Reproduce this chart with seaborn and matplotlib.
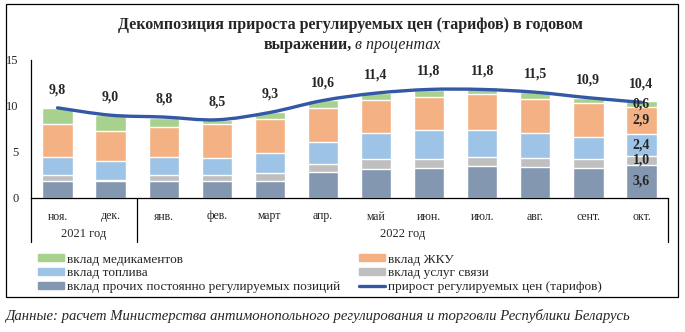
import matplotlib
matplotlib.use('Agg')
import matplotlib.pyplot as plt
import seaborn as sns
import numpy as np
import pandas as pd
from matplotlib.path import Path
from matplotlib.patches import PathPatch, Rectangle, Patch
from matplotlib.lines import Line2D
import matplotlib.transforms as mtransforms

# ---------------- data ----------------
months = ['ноя.', 'дек.', 'янв.', 'фев.', 'март', 'апр.', 'май', 'июн.', 'июл.', 'авг.', 'сент.', 'окт.']
other = [1.8, 1.9, 1.8, 1.8, 1.9, 2.8, 3.2, 3.3, 3.5, 3.4, 3.3, 3.6]
comm = [0.7, 0.1, 0.7, 0.7, 0.8, 0.9, 1.0, 0.9, 1.0, 1.0, 0.9, 1.0]
fuel = [2.0, 2.0, 2.0, 1.8, 2.2, 2.4, 2.9, 3.2, 2.9, 2.7, 2.4, 2.4]
housing = [3.5, 3.3, 3.2, 3.7, 3.7, 3.7, 3.6, 3.6, 3.9, 3.7, 3.7, 2.9]
meds = [1.8, 1.7, 1.0, 0.5, 0.7, 0.8, 0.7, 0.7, 0.5, 0.7, 0.6, 0.6]
total = [9.8, 9.0, 8.8, 8.5, 9.3, 10.6, 11.4, 11.8, 11.8, 11.5, 10.9, 10.4]
years = ['2021 год', '2022 год']
year_spans = [(0, 1), (2, 11)]

series_names = ['вклад прочих постоянно регулируемых позиций', 'вклад услуг связи',
                'вклад топлива', 'вклад ЖКУ', 'вклад медикаментов']
line_name = 'прирост регулируемых цен (тарифов)'
colors = ['#8497B0', '#BFBFBF', '#9DC3E6', '#F4B183', '#A9D18E']
line_color = '#3358A5'

title1 = 'Декомпозиция прироста регулируемых цен (тарифов) в годовом'
title2_bold = 'выражении,'
title2_it = 'в процентах'
caption = 'Данные: расчет Министерства антимонопольного регулирования и торговли Республики Беларусь'

# ---------------- style ----------------
sns.set_style('white')
plt.rcParams['font.family'] = ['Liberation Serif', 'DejaVu Serif']
plt.rcParams['axes.unicode_minus'] = False

W, H = 685, 332
fig = plt.figure(figsize=(W / 100, H / 100), dpi=100)

def fx(px):
    return px / W

def fy(py):
    return 1 - py / H

ax_left, ax_right, ax_top, ax_bot = 31, 668, 60, 198
ax = fig.add_axes([fx(ax_left), fy(ax_bot), fx(ax_right - ax_left), (ax_bot - ax_top) / H])

layers = [other, comm, fuel, housing, meds]
cums = np.cumsum(np.array(layers), axis=0)
df = pd.DataFrame({'month': months})
for i in range(len(layers) - 1, -1, -1):
    df['cum'] = cums[i]
    sns.barplot(data=df, x='month', y='cum', order=months, color=colors[i],
                saturation=1, width=0.57, errorbar=None, ax=ax, zorder=2)

ax.set_xlim(-0.5, len(months) - 0.5)
ax.set_ylim(0, 15)
ax.set_yticks([0, 5, 10, 15])
ax.set_xlabel('')
ax.set_ylabel('')
for s in ['top', 'right']:
    ax.spines[s].set_visible(False)
for s in ['left', 'bottom']:
    ax.spines[s].set_color('black')
    ax.spines[s].set_linewidth(0.9)
ax.tick_params(axis='y', length=0, labelsize=9, pad=9)
ax.tick_params(axis='x', length=0, labelsize=8.5, pad=9)
ax.grid(False)

# smooth line (Bezier through data points)
xs = np.arange(len(total), dtype=float)
ys = np.array(total, dtype=float)
pts = np.column_stack([xs, ys])
verts = [tuple(pts[0])]
codes = [Path.MOVETO]
n = len(pts)
for i in range(n - 1):
    p0 = pts[i - 1] if i > 0 else pts[i]
    p1 = pts[i]
    p2 = pts[i + 1]
    p3 = pts[i + 2] if i + 2 < n else pts[i + 1]
    c1 = p1 + (p2 - p0) / 6.0
    c2 = p2 - (p3 - p1) / 6.0
    verts += [tuple(c1), tuple(c2), tuple(p2)]
    codes += [Path.CURVE4] * 3
ax.add_patch(PathPatch(Path(verts, codes), facecolor='none', edgecolor=line_color,
                       lw=2.4, zorder=4, capstyle='round'))

def fmt(v):
    return f'{v:.1f}'.replace('.', ',')

for i, v in enumerate(total):
    ax.text(i, v + 1.95, fmt(v), ha='center', va='center', fontsize=10,
            fontweight='bold', zorder=5)

# segment labels for last bar
last = len(months) - 1
for k in range(len(layers)):
    base = cums[k - 1][last] if k > 0 else 0
    ax.text(last, base + layers[k][last] / 2, fmt(layers[k][last]), ha='center',
            va='center', fontsize=10, fontweight='bold', zorder=5)

# category separators and year labels
trans = mtransforms.blended_transform_factory(ax.transData, ax.transAxes)
drop = 44 / (ax_bot - ax_top)
for xv in [-0.5, 1.5, len(months) - 0.5]:
    ax.plot([xv, xv], [0, -drop], color='black', lw=0.9, transform=trans, clip_on=False)
for name, (a, b) in zip(years, year_spans):
    ax.text((a + b) / 2, -36 / (ax_bot - ax_top), name, transform=trans, ha='center',
            va='center', fontsize=9)

# title
fig.text(fx(350), fy(25), title1, ha='center', va='center', fontsize=11.5, fontweight='bold')
fig.text(fx(352), fy(45), title2_bold, ha='right', va='center', fontsize=11.5, fontweight='bold')
fig.text(fx(355), fy(45), title2_it, ha='left', va='center', fontsize=11.5, style='italic')

# legend
h = [Patch(color=colors[4]), Patch(color=colors[2]), Patch(color=colors[0]),
     Patch(color=colors[3]), Patch(color=colors[1]),
     Line2D([], [], color=line_color, lw=2.4)]
labels = [series_names[4], series_names[2], series_names[0],
          series_names[3], series_names[1], line_name]
fig.legend(h, labels, ncol=2, loc='upper left', bbox_to_anchor=(fx(38), fy(253.5)),
           frameon=False, fontsize=9.6, handlelength=1.95, handleheight=0.4,
           handletextpad=0.22, labelspacing=0.14, columnspacing=1.45, borderpad=0,
           borderaxespad=0)

# frame
fig.add_artist(Rectangle((fx(6), fy(297)), fx(678 - 6), (297 - 4) / H, transform=fig.transFigure,
                         fill=False, edgecolor='black', lw=0.9))

fig.text(fx(5), fy(316), caption, ha='left', va='center', fontsize=10.6, style='italic')

fig.savefig('out.png', dpi=100)
